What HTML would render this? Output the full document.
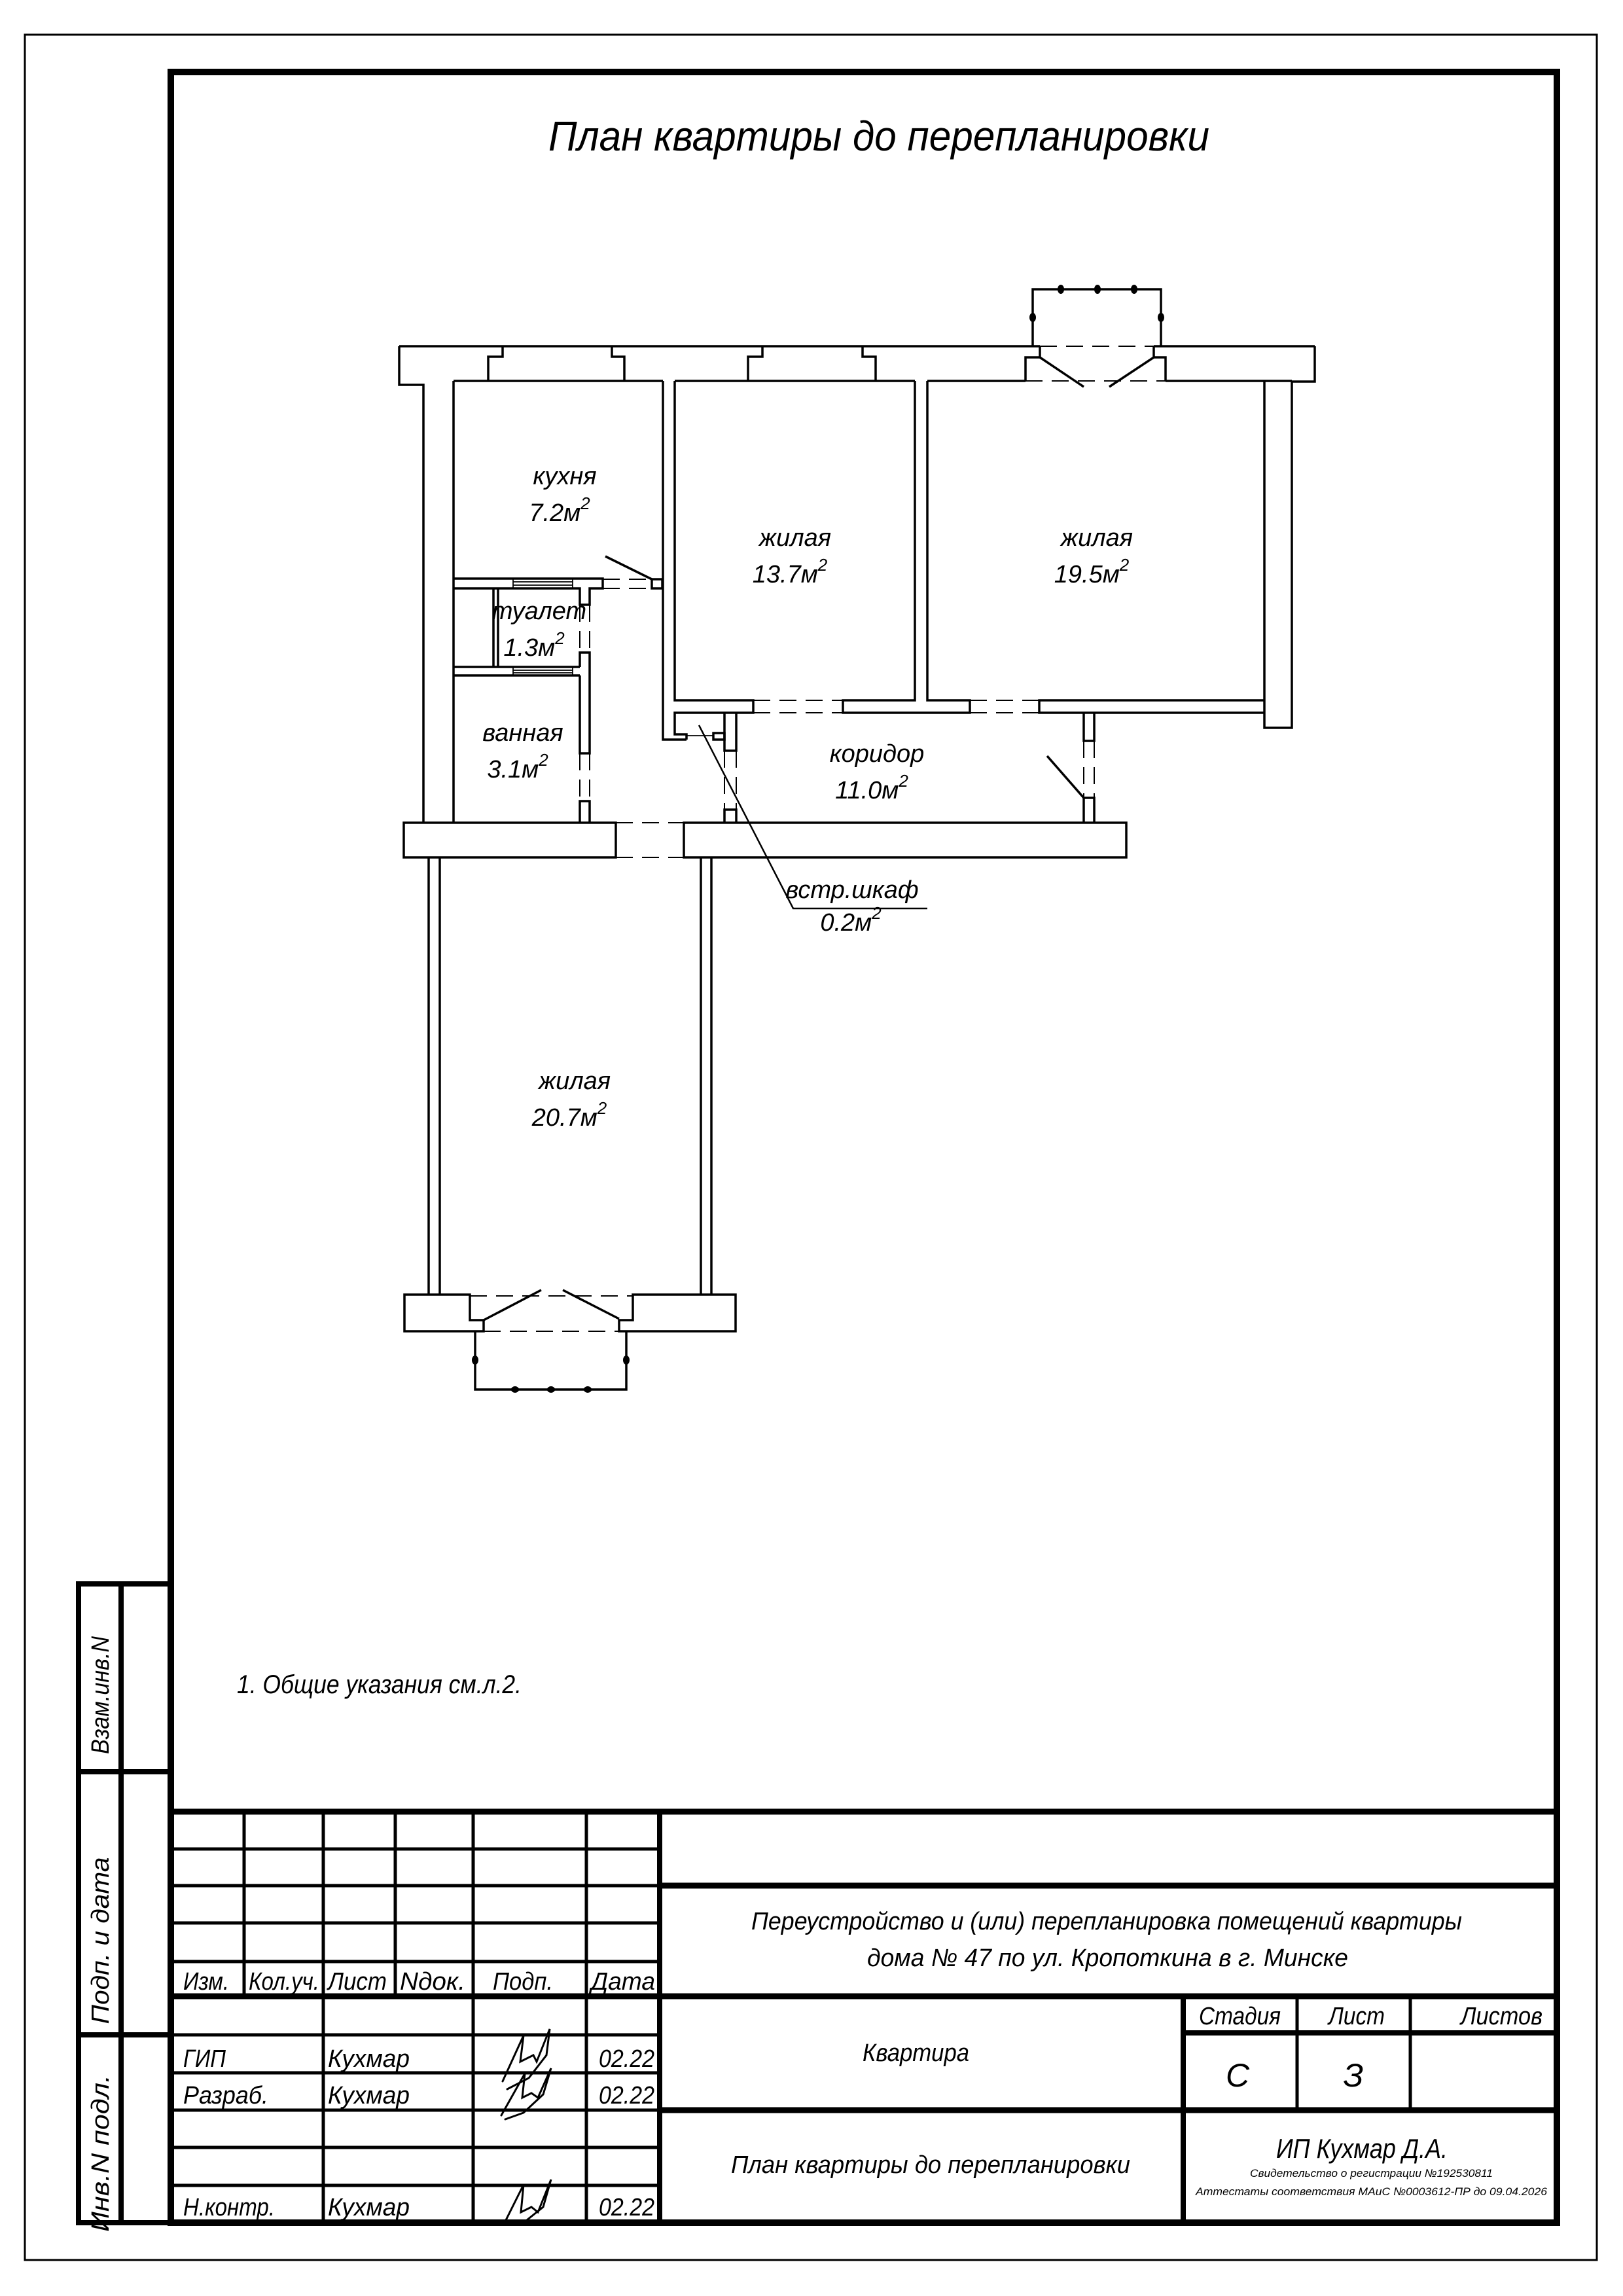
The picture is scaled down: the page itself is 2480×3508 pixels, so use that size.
<!DOCTYPE html>
<html><head><meta charset="utf-8"><style>
html,body{margin:0;padding:0;background:#fff}
svg{display:block}
text{font-family:"Liberation Sans",sans-serif;font-style:italic;fill:#000}
</style></head><body>
<svg width="2480" height="3508" viewBox="0 0 2480 3508" xmlns="http://www.w3.org/2000/svg">
<rect width="2480" height="3508" fill="#fff"/>
<!-- borders -->
<rect x="38" y="53" width="2402" height="3400" fill="none" stroke="#000" stroke-width="3"/>
<rect x="261" y="110" width="2118" height="3286" fill="none" stroke="#000" stroke-width="10"/>
<!-- left strip -->
<g fill="none" stroke="#000" stroke-width="8">
<polyline points="258,2420 120,2420 120,3396 258,3396"/>
<line x1="185" y1="2420" x2="185" y2="3396"/>
<line x1="120" y1="2707" x2="258" y2="2707"/>
<line x1="120" y1="3109" x2="258" y2="3109"/>
</g>
<g font-size="38">
<text transform="translate(166,2590) rotate(-90)" text-anchor="middle" textLength="180" lengthAdjust="spacingAndGlyphs">Взам.инв.N</text>
<text transform="translate(166,2965) rotate(-90)" text-anchor="middle" textLength="255" lengthAdjust="spacingAndGlyphs">Подп. и дата</text>
<text transform="translate(166,3290) rotate(-90)" text-anchor="middle" textLength="240" lengthAdjust="spacingAndGlyphs">Инв.N подл.</text>
</g>

<!-- title -->
<text x="838" y="230" font-size="64" textLength="1010" lengthAdjust="spacingAndGlyphs">План квартиры до перепланировки</text>

<!-- PLAN -->
<g fill="none" stroke="#000" stroke-width="3.5" stroke-linejoin="miter">
<line x1="610" y1="529" x2="1589" y2="529"/>
<line x1="1763" y1="529" x2="2009" y2="529"/>
<polyline points="610,529 610,588 647,588 647,1257"/>
<polyline points="2009,529 2009,583 1974,583 1974,1112 1932,1112 1932,582"/>
<line x1="693" y1="582" x2="1013" y2="582"/>
<line x1="1031" y1="582" x2="1398" y2="582"/>
<line x1="1417" y1="582" x2="1567" y2="582"/>
<line x1="1781" y1="582" x2="1974" y2="582"/>
<polyline points="768,529 768,545 746,545 746,582"/>
<polyline points="935,529 935,545 954,545 954,582"/>
<polyline points="1165,529 1165,545 1143,545 1143,582"/>
<polyline points="1318,529 1318,545 1338,545 1338,582"/>
<polyline points="1589,529 1589,546 1567,546 1567,582"/>
<polyline points="1763,529 1763,546 1781,546 1781,582"/>
<line x1="1589" y1="546" x2="1656" y2="591"/>
<line x1="1763" y1="546" x2="1695" y2="591"/>
<polyline points="1578,529 1578,442 1774,442 1774,529"/>
<line x1="693" y1="582" x2="693" y2="1257"/>
<polyline points="1013,582 1013,1130 1049,1130"/>
<polyline points="1031,582 1031,1070 1151,1070 1151,1089 1031,1089 1031,1122 1049,1122 1049,1130"/>
<polyline points="1398,582 1398,1070 1288,1070 1288,1089 1482,1089 1482,1070 1417,1070 1417,582"/>
<polyline points="1932,1070 1588,1070 1588,1089 1932,1089"/>
<rect x="1090" y="1120" width="17" height="10"/>
<polyline points="1107,1089 1107,1147 1125,1147 1125,1089"/>
<polyline points="1107,1257 1107,1237 1125,1237 1125,1257"/>
<polyline points="1656,1089 1656,1132 1672,1132 1672,1089"/>
<polyline points="1656,1257 1656,1219 1672,1219 1672,1257"/>
<line x1="1600" y1="1155" x2="1656" y2="1219"/>
<polyline points="693,884 921,884 921,899 901,899 901,924 886,924 886,899 693,899"/>
<rect x="996" y="885" width="16" height="14"/>
<line x1="925" y1="850" x2="996" y2="885"/>
<polyline points="693,1019 886,1019"/>
<polyline points="693,1032 886,1032"/>
<polyline points="886,1032 886,1151 901,1151 901,997 886,997 886,1019"/>
<polyline points="886,1257 886,1224 901,1224 901,1257"/>
<line x1="754" y1="899" x2="754" y2="1019"/>
<line x1="761" y1="899" x2="761" y2="1019"/>
<rect x="617" y="1257" width="324" height="53"/>
<rect x="1045" y="1257" width="676" height="53"/>
<line x1="655" y1="1310" x2="655" y2="1978"/>
<line x1="672" y1="1310" x2="672" y2="1978"/>
<line x1="1071" y1="1310" x2="1071" y2="1978"/>
<line x1="1087" y1="1310" x2="1087" y2="1978"/>
<polygon points="618,1978 718,1978 718,2017 739,2017 739,2034 618,2034"/>
<polygon points="967,1978 1124,1978 1124,2034 946,2034 946,2017 967,2017"/>
<line x1="739" y1="2017" x2="827" y2="1971"/>
<line x1="946" y1="2015" x2="860" y2="1971"/>
<polyline points="726,2034 726,2123 957,2123 957,2034"/>
<polyline points="1068,1108 1212,1388 1417,1388" stroke-width="2.5"/>
</g>
<g fill="none" stroke="#000" stroke-width="1.8">
<line x1="784" y1="884" x2="784" y2="899"/><line x1="875" y1="884" x2="875" y2="899"/>
<line x1="784" y1="889" x2="875" y2="889"/><line x1="784" y1="894" x2="875" y2="894"/>
<line x1="784" y1="1019" x2="784" y2="1032"/><line x1="875" y1="1019" x2="875" y2="1032"/>
<line x1="784" y1="1024" x2="875" y2="1024"/><line x1="784" y1="1028" x2="875" y2="1028"/>
<line x1="1049" y1="1124" x2="1090" y2="1124"/>
</g>
<g fill="none" stroke="#000" stroke-width="2" stroke-dasharray="26,14">
<line x1="1589" y1="529" x2="1763" y2="529"/>
<line x1="1567" y1="582" x2="1781" y2="582"/>
<line x1="921" y1="885" x2="996" y2="885"/><line x1="921" y1="899" x2="996" y2="899"/>
<line x1="886" y1="924" x2="886" y2="997"/><line x1="901" y1="924" x2="901" y2="997"/>
<line x1="886" y1="1151" x2="886" y2="1224"/><line x1="901" y1="1151" x2="901" y2="1224"/>
<line x1="1151" y1="1070" x2="1288" y2="1070"/><line x1="1151" y1="1089" x2="1288" y2="1089"/>
<line x1="1482" y1="1070" x2="1588" y2="1070"/><line x1="1482" y1="1089" x2="1588" y2="1089"/>
<line x1="1107" y1="1147" x2="1107" y2="1237"/><line x1="1125" y1="1147" x2="1125" y2="1237"/>
<line x1="1656" y1="1132" x2="1656" y2="1219"/><line x1="1672" y1="1132" x2="1672" y2="1219"/>
<line x1="941" y1="1257" x2="1045" y2="1257"/><line x1="941" y1="1310" x2="1045" y2="1310"/>
<line x1="718" y1="1980" x2="967" y2="1980"/><line x1="739" y1="2034" x2="946" y2="2034"/>
</g>
<g fill="#000">
<ellipse cx="1621" cy="442" rx="5" ry="7"/><ellipse cx="1677" cy="442" rx="5" ry="7"/><ellipse cx="1733" cy="442" rx="5" ry="7"/>
<ellipse cx="1578" cy="485" rx="5" ry="7"/><ellipse cx="1774" cy="485" rx="5" ry="7"/>
<ellipse cx="787" cy="2123" rx="6" ry="5"/><ellipse cx="842" cy="2123" rx="6" ry="5"/><ellipse cx="898" cy="2123" rx="6" ry="5"/>
<ellipse cx="726" cy="2078" rx="5" ry="7"/><ellipse cx="957" cy="2078" rx="5" ry="7"/>
</g>
<g font-size="38" text-anchor="middle">
<text x="863" y="740">кухня</text>
<text x="855" y="796">7.2м<tspan font-size="26" dy="-18">2</tspan></text>
<text x="1215" y="834">жилая</text>
<text x="1207" y="890">13.7м<tspan font-size="26" dy="-18">2</tspan></text>
<text x="1676" y="834">жилая</text>
<text x="1668" y="890">19.5м<tspan font-size="26" dy="-18">2</tspan></text>
<text x="824" y="946">туалет</text>
<text x="816" y="1002">1.3м<tspan font-size="26" dy="-18">2</tspan></text>
<text x="799" y="1132">ванная</text>
<text x="791" y="1188">3.1м<tspan font-size="26" dy="-18">2</tspan></text>
<text x="1340" y="1164">коридор</text>
<text x="1332" y="1220">11.0м<tspan font-size="26" dy="-18">2</tspan></text>
<text x="878" y="1664">жилая</text>
<text x="870" y="1720">20.7м<tspan font-size="26" dy="-18">2</tspan></text>
<text x="1302" y="1372">встр.шкаф</text>
<text x="1300" y="1422">0.2м<tspan font-size="26" dy="-18">2</tspan></text>
</g>

<text x="362" y="2587" font-size="40" textLength="435" lengthAdjust="spacingAndGlyphs">1. Общие указания см.л.2.</text>

<!-- STAMP -->
<g fill="none" stroke="#000" stroke-width="5">
<line x1="258" y1="2768" x2="2379" y2="2768" stroke-width="9"/>
<line x1="258" y1="2825" x2="1008" y2="2825"/>
<line x1="258" y1="2881" x2="1008" y2="2881"/>
<line x1="258" y1="2938" x2="1008" y2="2938"/>
<line x1="258" y1="2997" x2="1008" y2="2997"/>
<line x1="258" y1="3050" x2="2379" y2="3050" stroke-width="9"/>
<line x1="258" y1="3109" x2="1008" y2="3109"/>
<line x1="258" y1="3167" x2="1008" y2="3167"/>
<line x1="258" y1="3224" x2="1008" y2="3224"/>
<line x1="258" y1="3281" x2="1008" y2="3281"/>
<line x1="258" y1="3339" x2="1008" y2="3339"/>
<line x1="1008" y1="2881" x2="2379" y2="2881" stroke-width="9"/>
<line x1="1008" y1="3224" x2="2379" y2="3224" stroke-width="9"/>
<line x1="373" y1="2768" x2="373" y2="3050"/>
<line x1="604" y1="2768" x2="604" y2="3050"/>
<line x1="494" y1="2768" x2="494" y2="3394"/>
<line x1="723" y1="2768" x2="723" y2="3394"/>
<line x1="896" y1="2768" x2="896" y2="3394"/>
<line x1="1008" y1="2768" x2="1008" y2="3394" stroke-width="8"/>
<line x1="1808" y1="3050" x2="1808" y2="3394" stroke-width="8"/>
<line x1="1982" y1="3050" x2="1982" y2="3224"/>
<line x1="2155" y1="3050" x2="2155" y2="3224"/>
<line x1="1808" y1="3106" x2="2379" y2="3106" stroke-width="8"/>
</g>
<g font-size="38">
<text x="280" y="3040" textLength="70" lengthAdjust="spacingAndGlyphs">Изм.</text>
<text x="380" y="3040" textLength="108" lengthAdjust="spacingAndGlyphs">Кол.уч.</text>
<text x="501" y="3040" textLength="90" lengthAdjust="spacingAndGlyphs">Лист</text>
<text x="611" y="3040" textLength="100" lengthAdjust="spacingAndGlyphs">Nдок.</text>
<text x="753" y="3040" textLength="92" lengthAdjust="spacingAndGlyphs">Подп.</text>
<text x="903" y="3040" textLength="98" lengthAdjust="spacingAndGlyphs">Дата</text>
<text x="280" y="3158" textLength="65" lengthAdjust="spacingAndGlyphs">ГИП</text>
<text x="280" y="3214" textLength="130" lengthAdjust="spacingAndGlyphs">Разраб.</text>
<text x="280" y="3385" textLength="140" lengthAdjust="spacingAndGlyphs">Н.контр.</text>
<text x="501" y="3158" textLength="125" lengthAdjust="spacingAndGlyphs">Кухмар</text>
<text x="501" y="3214" textLength="125" lengthAdjust="spacingAndGlyphs">Кухмар</text>
<text x="501" y="3385" textLength="125" lengthAdjust="spacingAndGlyphs">Кухмар</text>
<text x="915" y="3158" textLength="85" lengthAdjust="spacingAndGlyphs">02.22</text>
<text x="915" y="3214" textLength="85" lengthAdjust="spacingAndGlyphs">02.22</text>
<text x="915" y="3385" textLength="85" lengthAdjust="spacingAndGlyphs">02.22</text>
<text x="1148" y="2948" textLength="1086" lengthAdjust="spacingAndGlyphs">Переустройство и (или) перепланировка помещений квартиры</text>
<text x="1325" y="3004" textLength="735" lengthAdjust="spacingAndGlyphs">дома № 47 по ул. Кропоткина в г. Минске</text>
<text x="1318" y="3149" textLength="163" lengthAdjust="spacingAndGlyphs">Квартира</text>
<text x="1117" y="3320" textLength="610" lengthAdjust="spacingAndGlyphs">План квартиры до перепланировки</text>
<text x="1832" y="3093" textLength="125" lengthAdjust="spacingAndGlyphs">Стадия</text>
<text x="2030" y="3093" textLength="86" lengthAdjust="spacingAndGlyphs">Лист</text>
<text x="2232" y="3093" textLength="125" lengthAdjust="spacingAndGlyphs">Листов</text>
<text x="1891" y="3188" font-size="50" text-anchor="middle">С</text>
<text x="2068" y="3188" font-size="50" text-anchor="middle">З</text>
<text x="1950" y="3297" font-size="42" textLength="262" lengthAdjust="spacingAndGlyphs">ИП Кухмар Д.А.</text>
<text x="1910" y="3326" font-size="17" textLength="371" lengthAdjust="spacingAndGlyphs">Свидетельство о регистрации №192530811</text>
<text x="1827" y="3354" font-size="17" textLength="537" lengthAdjust="spacingAndGlyphs">Аттестаты соответствия МАиС №0003612-ПР до 09.04.2026</text>
</g>
<g fill="none" stroke="#000" stroke-width="3" stroke-linecap="round">
<path d="M768,3180 L800,3110 L795,3150 L815,3140 L820,3150 L840,3100 L835,3140 L808,3175 L775,3192"/>
<path d="M766,3232 L802,3168 L798,3205 L812,3198 L822,3205 L842,3160 L830,3200 L800,3228 L772,3238"/>
<path d="M770,3398 L800,3338 L796,3380 L812,3372 L822,3380 L842,3330 L830,3372 L805,3392"/>
</g>
</svg>
</body></html>
